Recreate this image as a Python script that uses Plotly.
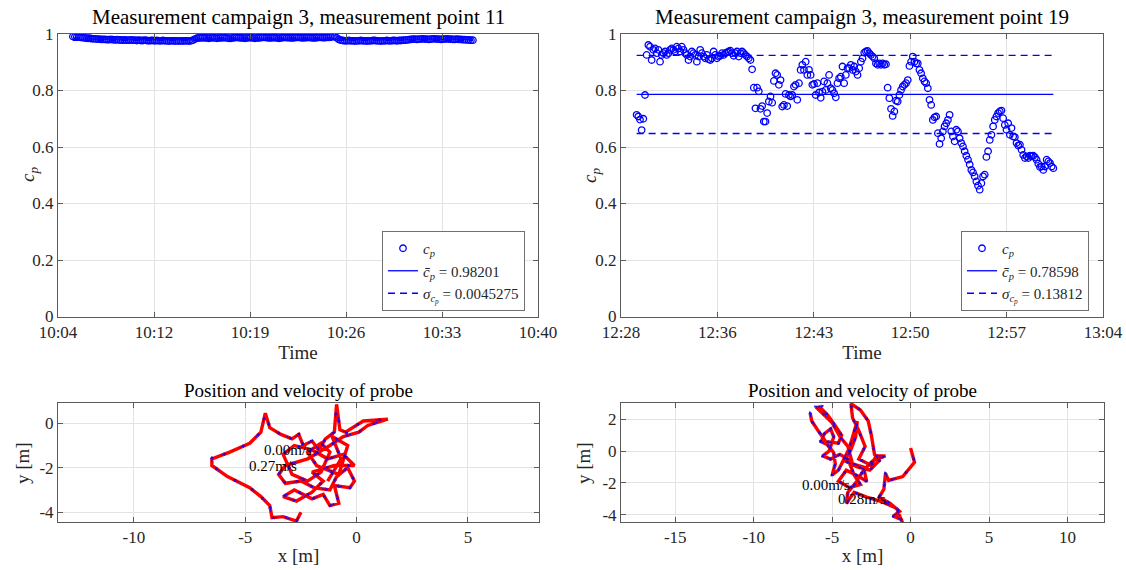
from datetime import datetime, timedelta
import math
import plotly.graph_objects as go

# ------------------------------------------------------------------ data
DATE = "2019-05-14"

# Measurement campaign 3, point 11
cp11 = [
    0.991, 0.990, 0.990, 0.989, 0.988, 0.987,
    0.986, 0.985, 0.985, 0.984, 0.983, 0.983, 0.982, 0.982, 0.981, 0.981,
    0.981, 0.980, 0.980, 0.981, 0.980, 0.979, 0.980, 0.979, 0.979, 0.978, 0.979, 0.978, 0.978, 0.979, 0.978,
    0.978, 0.977, 0.978, 0.977, 0.977, 0.978, 0.977, 0.976, 0.977, 0.977, 0.976, 0.977, 0.976, 0.976, 0.977,
    0.976, 0.976, 0.975, 0.976, 0.976, 0.975, 0.976, 0.975, 0.976, 0.975, 0.976, 0.976, 0.975, 0.976,
    0.978, 0.982, 0.985, 0.986,
    0.986, 0.987, 0.986, 0.986, 0.985, 0.986, 0.987, 0.986, 0.985, 0.986, 0.986, 0.987, 0.987, 0.986, 0.985,
    0.985, 0.986, 0.987, 0.988, 0.987, 0.986, 0.986, 0.985, 0.986, 0.987, 0.987, 0.986, 0.985, 0.986, 0.986,
    0.987, 0.988, 0.988, 0.987, 0.986, 0.986, 0.987, 0.987, 0.986, 0.985, 0.986, 0.987, 0.988, 0.987, 0.987,
    0.986, 0.986, 0.987, 0.988, 0.988, 0.987, 0.986, 0.987, 0.987, 0.988, 0.987, 0.986, 0.986, 0.987, 0.988,
    0.988, 0.987, 0.987, 0.988, 0.988,
    0.989, 0.991, 0.990, 0.986, 0.981,
    0.978, 0.977, 0.976, 0.976, 0.977, 0.976, 0.976, 0.975, 0.976, 0.976, 0.977, 0.976, 0.976, 0.975, 0.976,
    0.976, 0.977, 0.977, 0.976, 0.976, 0.975, 0.976, 0.976, 0.977, 0.976, 0.976, 0.977, 0.977, 0.976, 0.977,
    0.977, 0.978, 0.978, 0.979,
    0.980, 0.981, 0.982, 0.982, 0.981, 0.982, 0.982, 0.983, 0.982, 0.982, 0.981, 0.982, 0.983, 0.983, 0.982,
    0.982, 0.981, 0.982, 0.982, 0.983, 0.982, 0.982, 0.981, 0.981, 0.982, 0.981, 0.981, 0.980, 0.980, 0.979,
    0.979, 0.978, 0.978,
]
cp11_start = "10:05:57"
cp11_step_s = 9
cp11_mean = 0.98201
cp11_std = 0.0045275
t11_range = ("10:04:50", "10:40:50")
t11_labels = ["10:04", "10:12", "10:19", "10:26", "10:33", "10:40"]

# Measurement campaign 3, point 19
cp19 = [
    0.714, 0.708, 0.697, 0.660, 0.700, 0.784, 0.926, 0.961, 0.955, 0.908,
    0.944, 0.949, 0.932, 0.944, 0.902, 0.926, 0.932, 0.938, 0.926, 0.932,
    0.944, 0.949, 0.944, 0.938, 0.955, 0.949, 0.938, 0.955, 0.944, 0.932,
    0.926, 0.908, 0.920, 0.938, 0.932, 0.926, 0.902, 0.920, 0.944, 0.932,
    0.920, 0.914, 0.926, 0.911, 0.908, 0.914, 0.938, 0.926, 0.914, 0.920,
    0.923, 0.932, 0.926, 0.932, 0.935, 0.938, 0.941, 0.932, 0.923, 0.932,
    0.938, 0.920, 0.932, 0.938, 0.932, 0.926, 0.920, 0.914, 0.908, 0.875,
    0.810, 0.737, 0.810, 0.797, 0.735, 0.745, 0.690, 0.690, 0.720, 0.761,
    0.779, 0.757, 0.834, 0.861, 0.855, 0.820, 0.837, 0.743, 0.749, 0.788,
    0.745, 0.784, 0.779, 0.784, 0.814, 0.820, 0.767, 0.826, 0.873, 0.891,
    0.873, 0.902, 0.855, 0.873, 0.855, 0.820, 0.823, 0.784, 0.826, 0.793,
    0.774, 0.796, 0.832, 0.802, 0.826, 0.855, 0.808, 0.802, 0.790, 0.776,
    0.826, 0.843, 0.849, 0.885, 0.826, 0.855, 0.879, 0.879, 0.891, 0.873,
    0.885, 0.867, 0.855, 0.879, 0.902, 0.914, 0.934, 0.938, 0.940, 0.932,
    0.926, 0.920, 0.914, 0.896, 0.891, 0.896, 0.891, 0.896, 0.891, 0.893,
    0.810, 0.773, 0.735, 0.710, 0.726, 0.764, 0.761, 0.784, 0.802, 0.814,
    0.820, 0.826, 0.837, 0.887, 0.902, 0.920, 0.902, 0.896, 0.896, 0.873,
    0.861, 0.843, 0.832, 0.826, 0.808, 0.767, 0.749, 0.696, 0.705, 0.708,
    0.649, 0.611, 0.631, 0.655, 0.673, 0.684, 0.696, 0.714, 0.655, 0.637,
    0.620, 0.661, 0.655, 0.631, 0.614, 0.602, 0.585, 0.569, 0.555, 0.538,
    0.519, 0.510, 0.496, 0.478, 0.463, 0.449, 0.472, 0.496, 0.502, 0.565,
    0.585, 0.625, 0.643, 0.673, 0.696, 0.708, 0.720, 0.726, 0.729, 0.702,
    0.678, 0.661, 0.684, 0.643, 0.667, 0.637, 0.635, 0.614, 0.605, 0.608,
    0.590, 0.572, 0.561, 0.567, 0.561, 0.569, 0.567, 0.569, 0.564, 0.555,
    0.541, 0.529, 0.531, 0.519, 0.531, 0.555, 0.549, 0.543, 0.531, 0.525,
]
cp19_start = "12:30:00"
cp19_step_s = 7.5
cp19_mean = 0.78598
cp19_std = 0.13812
t19_range = ("12:28:50", "13:04:50")
t19_labels = ["12:28", "12:36", "12:43", "12:50", "12:57", "13:04"]

cp_ticks = [0, 0.2, 0.4, 0.6, 0.8, 1]

# Probe positions (m), point 11
pos11_x = [-2.5, -2.7, -3.3, -3.8, -3.9, -4.3, -4.8, -5.8, -6.5, -6.5, -5.7, -4.8, -4.3, -4.1, -3.9,
           -3.4, -2.9, -2.6, -2.4, -2.0, -1.7, -1.4, -1.0, -0.9, -0.75, -0.5, 0.3, 1.4, 0.5, 0.1,
           -0.6, -1.2, -2.2, -3.2, -3.5, -3.2, -2.5, -1.9, -1.2, -0.9, -0.4, -0.1, -0.3, -1.0, -0.8,
           -1.2, -1.5, -2.0, -2.8, -3.3, -2.7, -2.0, -1.5, -2.0, -1.0, -0.1, -0.6, -1.3, -2.0, -2.8,
           -3.3, -2.9, -2.2, -1.6, -1.2, -1.6, -2.2, -1.8, -0.8, -0.4, -1.1, -0.7, -1.3]
pos11_y = [-4.0, -4.4, -4.2, -4.25, -3.7, -3.3, -2.9, -2.4, -1.9, -1.6, -1.3, -0.9, -0.4, 0.45, -0.2,
           -0.5, -0.7, -0.5, -1.0, -0.8, -1.2, -0.7, -0.4, 0.85, -0.3, -0.4, 0.1, 0.18, -0.1, -0.4,
           -0.6, -1.0, -1.6, -1.9, -2.3, -2.7, -2.6, -2.9, -3.0, -2.4, -2.0, -2.6, -2.9, -2.8, -3.6,
           -3.7, -3.2, -3.4, -3.0, -3.3, -3.5, -3.1, -2.6, -2.2, -1.9, -1.9, -1.4, -1.6, -1.2, -1.0,
           -1.4, -2.3, -2.6, -2.2, -1.3, -0.9, -1.3, -1.9, -2.3, -1.0, -0.6, -1.6, -2.6]
speed11_labels = ["0.00m/s", "0.27m/s"]
speed11_x = [-3.07, -3.74]
speed11_y = [-1.2, -1.91]

# Probe positions (m), point 19
pos19_x = [0.0, 0.25, -0.5, -1.4, -1.6, -1.7, -2.0, -1.3, -0.7, -1.1, -0.6, -0.5, -0.9, -1.8, -2.8,
           -3.6, -4.1, -4.0, -3.5, -3.0, -2.4, -1.6, -2.2, -2.5, -3.3, -2.9, -3.3, -3.7, -3.8, -3.2,
           -2.7, -2.5, -2.3, -2.0, -2.6, -3.4, -4.2, -3.8, -3.5, -3.4, -3.6, -3.9, -4.3, -4.6, -5.0,
           -4.8, -4.9, -5.3, -5.7, -5.5, -5.1, -4.9, -5.2, -5.6, -5.1, -4.5, -4.0, -3.6, -3.2, -3.9,
           -4.6, -4.1, -3.3, -2.8, -3.0, -3.7, -4.0, -4.5, -5.0, -5.7, -6.0, -5.8, -5.3, -4.8, -4.4,
           -4.6, -5.4, -5.9, -6.3, -6.4]
pos19_y = [0.2, -0.7, -1.6, -1.85, -1.4, -2.4, -2.9, -3.3, -3.8, -4.1, -4.3, -4.55, -3.6, -3.2, -2.9,
           -2.6, -3.3, -2.6, -2.0, -1.2, -0.6, -0.3, -0.3, -0.9, -0.5, 0.3, 1.3, 2.1, 3.0, 2.6,
           1.9, 1.0, -0.2, -0.6, -1.2, -1.0, -0.6, 0.1, 0.9, 1.9, 1.2, 0.2, -0.6, -1.2, -1.5,
           -0.8, -0.1, 0.4, 0.6, 1.1, 1.4, 0.9, 0.0, -0.3, -0.5, -0.2, -0.5, -1.5, -2.1, -2.3,
           -1.9, -1.2, -1.6, -1.9, -1.0, -0.8, 0.3, 0.9, 1.8, 2.5, 2.75, 2.8, 2.3, 1.6, 1.0,
           0.5, 0.6, 1.3, 1.9, 2.4]
speed19_labels = ["0.00m/s", "0.28m/s"]
speed19_x = [-5.39, -3.07]
speed19_y = [-2.15, -2.99]

# ------------------------------------------------------------------ style
FONT = "Liberation Serif"
BLUE = "#0000ff"
RED = "#ff0000"
AXC = "#5a5a5a"
GRID = "#e3e3e3"
W, H = 1126, 570


def px_x(p):
    return p / W


def px_y(p):
    return 1 - p / H


def ts(hms):
    return datetime.fromisoformat(f"{DATE}T{hms}")


def times(start, step, n):
    t0 = ts(start)
    return [t0 + timedelta(seconds=step * i) for i in range(n)]


def date_ticks(rng):
    a, b = ts(rng[0]), ts(rng[1])
    return [a + (b - a) * k / 5 for k in range(6)], [a, b]


fig = go.Figure()


def legend_names(m, s):
    return [
        "<i>c<sub>p</sub></i>",
        f"<i>c\u0304<sub>p</sub></i> = {m}",
        f"<i>\u03c3<sub>c<sub>p</sub></sub></i> = {s}",
    ]


def add_series(cp, start, step, mean, std, xa, ya, leg, mean_txt, std_txt):
    t = times(start, step, len(cp))
    names = legend_names(mean_txt, std_txt)
    fig.add_trace(go.Scatter(
        x=t, y=cp, mode="markers", name=names[0], xaxis=xa, yaxis=ya, legend=leg,
        marker=dict(symbol="circle-open", size=6.5, color=BLUE, line=dict(width=1.3, color=BLUE)),
    ))
    ends = [t[0], t[-1]]
    fig.add_trace(go.Scatter(
        x=ends, y=[mean, mean], mode="lines", name=names[1], xaxis=xa, yaxis=ya, legend=leg,
        line=dict(color=BLUE, width=1.3),
    ))
    fig.add_trace(go.Scatter(
        x=ends, y=[mean + std, mean + std], mode="lines", name=names[2], xaxis=xa, yaxis=ya, legend=leg,
        line=dict(color=BLUE, width=1.3, dash="7px,5px"),
    ))
    fig.add_trace(go.Scatter(
        x=ends, y=[mean - std, mean - std], mode="lines", showlegend=False, xaxis=xa, yaxis=ya,
        line=dict(color=BLUE, width=1.3, dash="7px,5px"),
    ))


add_series(cp11, cp11_start, cp11_step_s, cp11_mean, cp11_std, "x", "y", "legend", "0.98201", "0.0045275")
add_series(cp19, cp19_start, cp19_step_s, cp19_mean, cp19_std, "x2", "y2", "legend2", "0.78598", "0.13812")


def add_track(px, py, xa, ya, scale):
    fig.add_trace(go.Scatter(x=px, y=py, mode="lines", xaxis=xa, yaxis=ya, showlegend=False,
                             line=dict(color=RED, width=3.4)))
    ax, ay = [], []
    L = 0.25 * scale
    hl = 0.12 * scale
    for i in range(len(px) - 1):
        dx, dy = px[i + 1] - px[i], py[i + 1] - py[i]
        d = math.hypot(dx, dy) or 1
        ux, uy = dx / d, dy / d
        x0, y0 = px[i] + dx * 0.5, py[i] + dy * 0.5
        x1, y1 = x0 + L * ux, y0 + L * uy
        ax += [x0, x1, None]
        ay += [y0, y1, None]
        for s in (1, -1):
            c, sn = math.cos(2.6), s * math.sin(2.6)
            hx = ux * c - uy * sn
            hy = ux * sn + uy * c
            ax += [x1, x1 + hl * hx, None]
            ay += [y1, y1 + hl * hy, None]
    fig.add_trace(go.Scatter(x=ax, y=ay, mode="lines", xaxis=xa, yaxis=ya, showlegend=False,
                             line=dict(color=BLUE, width=0.9)))


add_track(pos11_x, pos11_y, "x3", "y3", 1.0)
add_track(pos19_x, pos19_y, "x4", "y4", 1.4)

for lbls, xs, ys, xa, ya in [(speed11_labels, speed11_x, speed11_y, "x3", "y3"),
                             (speed19_labels, speed19_x, speed19_y, "x4", "y4")]:
    for s, x, y in zip(lbls, xs, ys):
        fig.add_annotation(x=x, y=y, xref=xa, yref=ya, text=s, showarrow=False,
                           font=dict(family=FONT, size=15, color="black"))

tick_font = dict(family=FONT, size=17, color="#262626")
title_font = dict(family=FONT, size=19, color="#262626")

common = dict(showline=True, linecolor=AXC, linewidth=1, mirror="ticks", ticks="inside",
              ticklen=5, tickcolor=AXC, showgrid=True, gridcolor=GRID, gridwidth=1,
              zeroline=False, tickfont=tick_font, automargin=False)

tv11, r11 = date_ticks(t11_range)
tv19, r19 = date_ticks(t19_range)

ytop = [px_y(316.5), px_y(34)]
ybot = [px_y(522), px_y(403)]

fig.update_layout(
    width=W, height=H, autosize=False,
    margin=dict(l=0, r=0, t=0, b=0, autoexpand=False),
    paper_bgcolor="white", plot_bgcolor="white",
    font=dict(family=FONT, color="#262626"),
    xaxis=dict(domain=[px_x(58), px_x(538)], anchor="y", type="date", range=r11,
               tickvals=tv11, ticktext=t11_labels,
               title=dict(text="Time", font=title_font, standoff=4), **common),
    yaxis=dict(domain=ytop, anchor="x", range=[0, 1], tickvals=cp_ticks,
               ticktext=[f"{v:g}" for v in cp_ticks], **common),
    xaxis2=dict(domain=[px_x(621), px_x(1103)], anchor="y2", type="date", range=r19,
                tickvals=tv19, ticktext=t19_labels,
                title=dict(text="Time", font=title_font, standoff=4), **common),
    yaxis2=dict(domain=ytop, anchor="x2", range=[0, 1], tickvals=cp_ticks,
                ticktext=[f"{v:g}" for v in cp_ticks], **common),
    xaxis3=dict(domain=[px_x(58), px_x(539)], anchor="y3", range=[-13.41, 8.19],
                tickvals=[-10, -5, 0, 5], ticktext=["-10", "-5", "0", "5"],
                title=dict(text="x [m]", font=title_font, standoff=2), **common),
    yaxis3=dict(domain=ybot, anchor="x3", range=[-4.44, 0.91],
                tickvals=[-4, -2, 0], ticktext=["-4", "-2", "0"], **common),
    xaxis4=dict(domain=[px_x(621), px_x(1104)], anchor="y4", range=[-18.46, 12.33],
                tickvals=[-15, -10, -5, 0, 5, 10], ticktext=["-15", "-10", "-5", "0", "5", "10"],
                title=dict(text="x [m]", font=title_font, standoff=2), **common),
    yaxis4=dict(domain=ybot, anchor="x4", range=[-4.47, 3.04],
                tickvals=[-4, -2, 0, 2], ticktext=["-4", "-2", "0", "2"], **common),
    legend=dict(x=px_x(525), xanchor="right", y=px_y(311), yanchor="bottom",
                bgcolor="white", bordercolor="#707070", borderwidth=1,
                font=dict(family=FONT, size=15, color="#262626"), tracegroupgap=0,
                itemwidth=30),
    legend2=dict(x=px_x(1089), xanchor="right", y=px_y(311), yanchor="bottom",
                 bgcolor="white", bordercolor="#707070", borderwidth=1,
                 font=dict(family=FONT, size=15, color="#262626"), tracegroupgap=0,
                 itemwidth=30),
)

# subplot titles
for txt, cx, cy, sz in [("Measurement campaign 3, measurement point 11", 298, 17, 21),
                        ("Measurement campaign 3, measurement point 19", 862, 17, 21),
                        ("Position and velocity of probe", 298, 390, 19),
                        ("Position and velocity of probe", 862, 390, 19)]:
    fig.add_annotation(x=px_x(cx), y=px_y(cy), xref="paper", yref="paper", text=txt,
                       showarrow=False, xanchor="center", yanchor="middle",
                       font=dict(family=FONT, size=sz, color="black"))

# y-axis titles (rotated)
for txt, cx, cy in [("<i>c<sub>p</sub></i>", 29, 175), ("<i>c<sub>p</sub></i>", 591, 175),
                    ("y [m]", 22, 463), ("y [m]", 583, 463)]:
    fig.add_annotation(x=px_x(cx), y=px_y(cy), xref="paper", yref="paper", text=txt,
                       showarrow=False, xanchor="center", yanchor="middle", textangle=-90,
                       font=title_font)

fig.write_html("out.html", post_script="document.body.style.margin='0';",
               config={"displayModeBar": False})
